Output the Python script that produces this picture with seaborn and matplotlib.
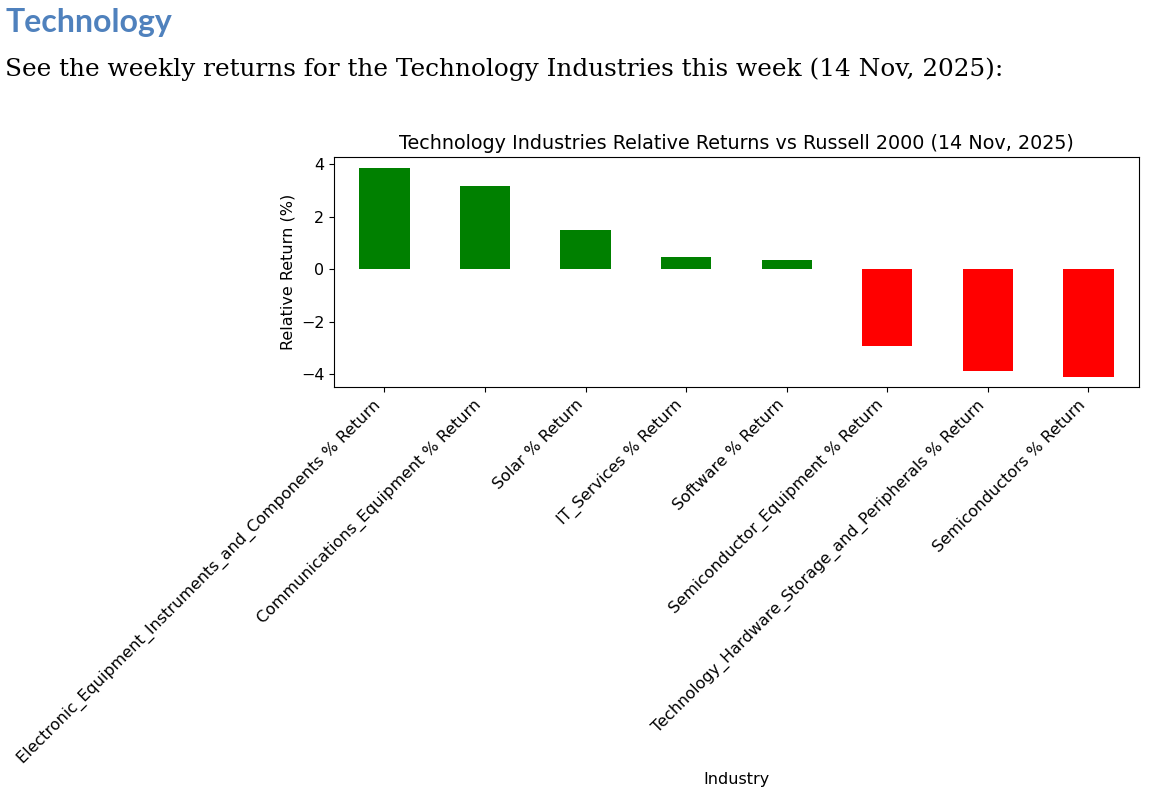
import pandas as pd
import numpy as np
import matplotlib.pyplot as plt
import seaborn as sns

# Weekly relative returns vs Russell 2000
industries = [
    "Electronic_Equipment_Instruments_and_Components % Return",
    "Communications_Equipment % Return",
    "Solar % Return",
    "IT_Services % Return",
    "Software % Return",
    "Semiconductor_Equipment % Return",
    "Technology_Hardware_Storage_and_Peripherals % Return",
    "Semiconductors % Return",
]
returns = [3.87, 3.17, 1.51, 0.46, 0.37, -2.91, -3.86, -4.09]

df = pd.DataFrame({"Industry": industries, "Return": returns})
df["Sign"] = np.where(df["Return"] >= 0, "up", "down")

plt.rcParams["font.size"] = 11.5

fig = plt.figure(figsize=(11.52, 8), dpi=100)

# document-style heading and intro line
fig.text(0.005, 0.972, "Technology", fontsize=23, fontweight="bold",
         color="#4F81BD", family="Lato", va="center", ha="left")
fig.text(0.004, 0.914, "See the weekly returns for the Technology Industries this week (14 Nov, 2025):",
         fontsize=17.8, family="DejaVu Serif", va="center", ha="left", color="black")

ax = fig.add_axes([0.290, 0.516, 0.6985, 0.2875])
sns.barplot(data=df, x="Industry", y="Return", hue="Sign",
            palette={"up": "green", "down": "red"}, width=0.5,
            dodge=False, legend=False, saturation=1, ax=ax)
ax.set_xlim(-0.5, len(industries) - 0.5)
ax.set_title("Technology Industries Relative Returns vs Russell 2000 (14 Nov, 2025)", fontsize=13.8)
ax.set_xlabel("Industry")
ax.set_ylabel("Relative Return (%)")
ax.set_xticks(range(len(industries)))
ax.set_xticklabels(industries, rotation=45, ha="right")

fig.savefig("out.png", dpi=100)
